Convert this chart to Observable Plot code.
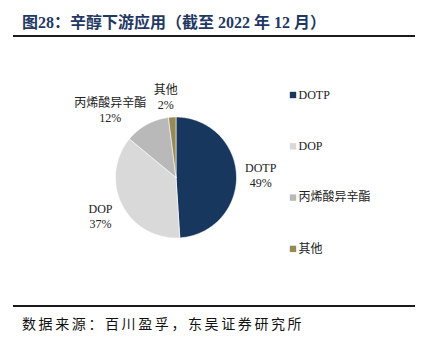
<!DOCTYPE html>
<html>
<head>
<meta charset="utf-8">
<script src="https://cdn.jsdelivr.net/npm/d3@7"></script>
<script src="https://cdn.jsdelivr.net/npm/@observablehq/plot@0.6"></script>
<style>
  html, body { margin: 0; padding: 0; background: #fff; }
  body { width: 425px; height: 344px; position: relative; overflow: hidden;
         font-family: "Liberation Serif", "Noto Sans CJK SC", serif; }
  #title { position: absolute; left: 22px; top: 9px; font-size: 16px; font-weight: bold;
           color: #1f3864; white-space: nowrap; }
  .rule { position: absolute; left: 13px; width: 402px; background: #1a1a1a; }
  #chart { position: absolute; left: 0; top: 38px; }
  #source { position: absolute; left: 22px; top: 313px; font-size: 14px; color: #111;
            letter-spacing: 2.6px; white-space: nowrap; }
</style>
</head>
<body>
<div id="title">图28：辛醇下游应用（截至 2022 年 12 月）</div>
<div class="rule" style="top:35px;height:2px"></div>
<div id="chart"></div>
<div class="rule" style="top:305px;height:2px"></div>
<div id="source">数据来源：百川盈孚，东吴证券研究所</div>
<script>
// ---- data ----
const categories = ["DOTP", "DOP", "丙烯酸异辛酯", "其他"];
const shares = [49, 37, 12, 2];
const colors = ["#17375e", "#d9d9d9", "#b9b9b9", "#968b57"];

// ---- layout (not data) ----
const W = 425, H = 267;
const cx = 175.5, cy = 139, R = 60.5;
const labelDist = 1.4;
const labelNudge = {"丙烯酸异辛酯": [-25, 6], "其他": [-5, 4]};
const legendX = 292.5, legendY0 = 56.5, legendStep = 51.3;

const total = d3.sum(shares);
let acc = 0;
const slices = categories.map((c, i) => {
  const a0 = acc / total * 2 * Math.PI;
  acc += shares[i];
  const a1 = acc / total * 2 * Math.PI;
  return {cat: c, value: shares[i], a0, a1};
});

// polygon points of each slice (angle clockwise from 12 o'clock)
const pts = [];
for (const s of slices) {
  pts.push({cat: s.cat, x: cx, y: cy});
  const n = Math.max(2, Math.ceil((s.a1 - s.a0) / (Math.PI / 180)));
  for (let k = 0; k <= n; k++) {
    const a = s.a0 + (s.a1 - s.a0) * k / n;
    pts.push({cat: s.cat, x: cx + R * Math.sin(a), y: cy - R * Math.cos(a)});
  }
  pts.push({cat: s.cat, x: cx, y: cy});
}

const labels = slices.map(s => {
  const m = (s.a0 + s.a1) / 2;
  const [nx, ny] = labelNudge[s.cat] || [0, 0];
  return {
    cat: s.cat,
    text: s.cat + "\n" + s.value + "%",
    x: cx + R * labelDist * Math.sin(m) + nx,
    y: cy - R * labelDist * Math.cos(m) + ny
  };
});

const legend = categories.map((c, i) => ({cat: c, x: legendX, y: legendY0 + i * legendStep}));

const font = "Liberation Serif, Noto Sans CJK SC, serif";

const chart = Plot.plot({
  width: W, height: H,
  margin: 0,
  x: {domain: [0, W], range: [0, W], axis: null},
  y: {domain: [0, H], range: [0, H], axis: null},
  color: {domain: categories, range: colors},
  style: {fontFamily: font, background: "white"},
  marks: [
    Plot.line(pts, {x: "x", y: "y", z: "cat", fill: "cat", stroke: "white", strokeWidth: 0.6, curve: "linear"}),
    Plot.text(labels, {x: "x", y: "y", text: "text", fontSize: 12, fontFamily: font, fill: "#222", lineHeight: 1.25, textAnchor: "middle"}),
    Plot.dot(legend, {x: "x", y: "y", fill: "cat", symbol: "square", r: 3.6, stroke: null}),
    Plot.text(legend, {x: "x", y: "y", text: "cat", dx: 5.5, textAnchor: "start", fontSize: 12, fontFamily: font, fill: "#222"})
  ]
});
document.getElementById("chart").appendChild(chart);
</script>
</body>
</html>
